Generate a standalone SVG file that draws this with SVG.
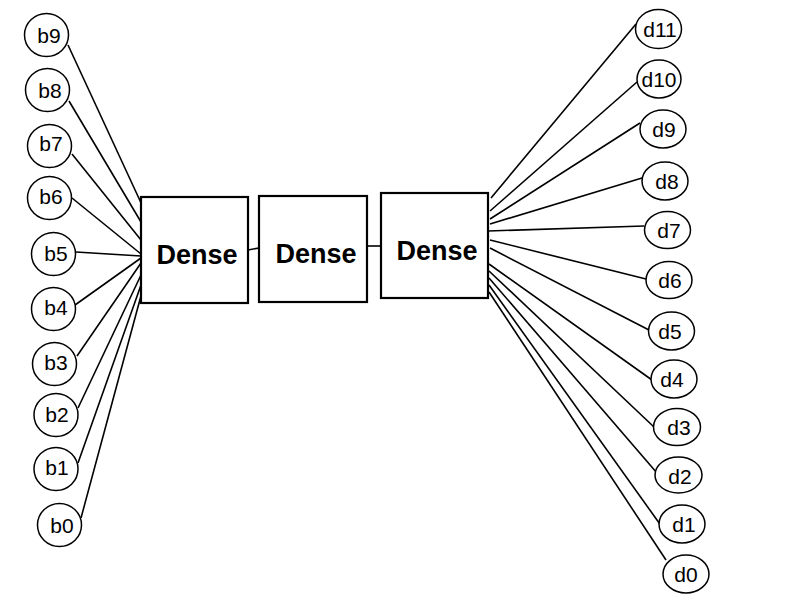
<svg xmlns="http://www.w3.org/2000/svg" width="800" height="600" viewBox="0 0 800 600">
<style>
.n{fill:#fff;stroke:#000;stroke-width:1.5}
.box{fill:#fff;stroke:#000;stroke-width:2.2}
.lbl{font-family:"Liberation Sans",Arial,sans-serif;font-size:21px;fill:#000;text-anchor:middle;dominant-baseline:central}
.bt{font-family:"Liberation Sans",Arial,sans-serif;font-size:27px;font-weight:bold;fill:#000;text-anchor:middle}
.c line{stroke:#000;stroke-width:1.6}
</style>
<rect width="800" height="600" fill="#fff"/>
<g class="c" id="connectors">
<line x1="68" y1="45" x2="142" y2="205"/>
<line x1="69" y1="101" x2="141" y2="222"/>
<line x1="72" y1="154" x2="141" y2="240"/>
<line x1="72" y1="198" x2="141" y2="254"/>
<line x1="76" y1="252" x2="141" y2="256"/>
<line x1="75" y1="305" x2="141" y2="258"/>
<line x1="77" y1="356" x2="141" y2="263"/>
<line x1="78" y1="408" x2="141" y2="275"/>
<line x1="78" y1="463" x2="141" y2="285"/>
<line x1="81" y1="518" x2="142" y2="292"/>
<line x1="248" y1="250" x2="259" y2="248"/>
<line x1="367" y1="246" x2="381" y2="246"/>
<line x1="491" y1="198" x2="636" y2="24"/>
<line x1="490" y1="211" x2="637" y2="82"/>
<line x1="490" y1="219" x2="640" y2="123"/>
<line x1="490" y1="224" x2="642" y2="178"/>
<line x1="488" y1="231" x2="644" y2="226"/>
<line x1="490" y1="240" x2="646" y2="279"/>
<line x1="490" y1="248" x2="649" y2="330"/>
<line x1="489" y1="264" x2="652" y2="380"/>
<line x1="489" y1="271" x2="654" y2="427"/>
<line x1="489" y1="278" x2="657" y2="473"/>
<line x1="489" y1="285" x2="662" y2="527"/>
<line x1="489" y1="292" x2="666" y2="560"/>
</g>
<g id="b9"><ellipse class="n" cx="46.5" cy="35" rx="22" ry="21.5"/><text class="lbl" x="49" y="35">b9</text></g>
<g id="b8"><ellipse class="n" cx="47.5" cy="90" rx="22" ry="21.5"/><text class="lbl" x="50" y="90">b8</text></g>
<g id="b7"><ellipse class="n" cx="49.5" cy="146" rx="22" ry="21.5"/><text class="lbl" x="51" y="143">b7</text></g>
<g id="b6"><ellipse class="n" cx="49.5" cy="198" rx="22" ry="21.5"/><text class="lbl" x="51" y="196">b6</text></g>
<g id="b5"><ellipse class="n" cx="53.5" cy="254" rx="22" ry="21.5"/><text class="lbl" x="56" y="253">b5</text></g>
<g id="b4"><ellipse class="n" cx="53.5" cy="309" rx="22" ry="21.5"/><text class="lbl" x="56" y="307">b4</text></g>
<g id="b3"><ellipse class="n" cx="54.5" cy="364" rx="22" ry="21.5"/><text class="lbl" x="56" y="362">b3</text></g>
<g id="b2"><ellipse class="n" cx="56" cy="415" rx="22" ry="21.5"/><text class="lbl" x="57" y="414">b2</text></g>
<g id="b1"><ellipse class="n" cx="56" cy="469" rx="22" ry="21.5"/><text class="lbl" x="57" y="467">b1</text></g>
<g id="b0"><ellipse class="n" cx="59.5" cy="525" rx="22" ry="21.5"/><text class="lbl" x="62" y="525">b0</text></g>
<g id="dense1"><rect class="box" x="141" y="197" width="107" height="106"/><text class="bt" x="197" y="264">Dense</text></g>
<g id="dense2"><rect class="box" x="259" y="196" width="108" height="106"/><text class="bt" x="316" y="263">Dense</text></g>
<g id="dense3"><rect class="box" x="381" y="193" width="107" height="105"/><text class="bt" x="437" y="260">Dense</text></g>
<g id="d11"><ellipse class="n" cx="658.5" cy="29" rx="23" ry="19.5"/><text class="lbl" x="660" y="29">d11</text></g>
<g id="d10"><ellipse class="n" cx="659" cy="79" rx="22" ry="19"/><text class="lbl" x="659" y="79">d10</text></g>
<g id="d9"><ellipse class="n" cx="663" cy="129" rx="23" ry="19"/><text class="lbl" x="664" y="129">d9</text></g>
<g id="d8"><ellipse class="n" cx="665" cy="181" rx="23" ry="19"/><text class="lbl" x="667" y="181">d8</text></g>
<g id="d7"><ellipse class="n" cx="667.5" cy="230" rx="23" ry="18.5"/><text class="lbl" x="669" y="230">d7</text></g>
<g id="d6"><ellipse class="n" cx="669" cy="280" rx="23" ry="18.5"/><text class="lbl" x="670" y="280">d6</text></g>
<g id="d5"><ellipse class="n" cx="671.5" cy="331" rx="23" ry="19"/><text class="lbl" x="670" y="331">d5</text></g>
<g id="d4"><ellipse class="n" cx="674" cy="379" rx="23" ry="19"/><text class="lbl" x="672" y="379">d4</text></g>
<g id="d3"><ellipse class="n" cx="677" cy="427" rx="23.5" ry="18.5"/><text class="lbl" x="679" y="427">d3</text></g>
<g id="d2"><ellipse class="n" cx="678.5" cy="475" rx="23.5" ry="18"/><text class="lbl" x="680" y="476">d2</text></g>
<g id="d1"><ellipse class="n" cx="682" cy="524" rx="23" ry="19"/><text class="lbl" x="684" y="524">d1</text></g>
<g id="d0"><ellipse class="n" cx="686" cy="574" rx="23" ry="19"/><text class="lbl" x="686" y="574">d0</text></g>
</svg>
